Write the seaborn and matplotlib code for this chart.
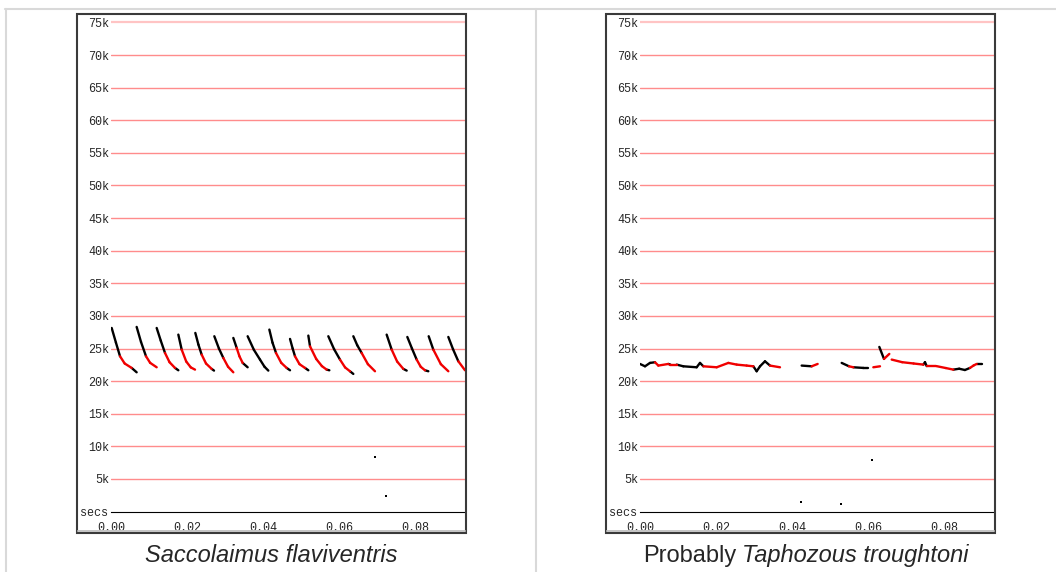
# ========== Librerias ==========
import numpy as np
import pandas as pd
import matplotlib
matplotlib.use('Agg')
import matplotlib.pyplot as plt
from matplotlib.patches import Rectangle
from matplotlib.lines import Line2D
import seaborn as sns

sns.set_style('white')
plt.rcParams['font.family'] = ['Liberation Sans', 'DejaVu Sans']

# ========== Datos ==========
# Saccolaimus flaviventris: one list per pulse (time s, freq Hz), colour per segment
left_t = [
    [0.00018, 0.00130, 0.00237, 0.00360, 0.00544, 0.00675],
    [0.00675, 0.00790, 0.00921, 0.01030, 0.01202],
    [0.01202, 0.01310, 0.01421, 0.01540, 0.01684, 0.01772],
    [0.01772, 0.01860, 0.01980, 0.02100, 0.02211],
    [0.02219, 0.02300, 0.02386, 0.02500, 0.02649, 0.02711],
    [0.02719, 0.02840, 0.02956, 0.03080, 0.03219],
    [0.03219, 0.03307, 0.03380, 0.03465, 0.03596],
    [0.03596, 0.03760, 0.03921, 0.04040, 0.04140],
    [0.04167, 0.04250, 0.04342, 0.04480, 0.04623, 0.04711],
    [0.04711, 0.04780, 0.04842, 0.04960, 0.05105, 0.05193],
    [0.05193, 0.05237, 0.05400, 0.05550, 0.05675, 0.05746],
    [0.05719, 0.05870, 0.06026, 0.06160, 0.06289, 0.06377],
    [0.06377, 0.06480, 0.06596, 0.06760, 0.06947],
    [0.07254, 0.07386, 0.07530, 0.07693, 0.07781],
    [0.07798, 0.07920, 0.08044, 0.08150, 0.08263, 0.08351],
    [0.08360, 0.08482, 0.08680, 0.08877],
    [0.08877, 0.09000, 0.09140, 0.09316],
]
left_f = [
    [28150, 25900, 23810, 22700, 22020, 21350],
    [28310, 26000, 23810, 22800, 22120],
    [28150, 26200, 24320, 22900, 22020, 21660],
    [27130, 24830, 23000, 22100, 21760],
    [27390, 25600, 24060, 22700, 21870, 21610],
    [26880, 25000, 23550, 22200, 21350],
    [26620, 25090, 23800, 22790, 22120],
    [26880, 24800, 23300, 22200, 21610],
    [27900, 25900, 24320, 22800, 22020, 21660],
    [26470, 25000, 23810, 22600, 22020, 21660],
    [26980, 25340, 23400, 22300, 21760, 21660],
    [26880, 24900, 23300, 22100, 21510, 21100],
    [26880, 25500, 24320, 22600, 21510],
    [27130, 24830, 23000, 21870, 21610],
    [26770, 25000, 23300, 22200, 21660, 21510],
    [26880, 24830, 22600, 21510],
    [26770, 24900, 23040, 21660],
]
left_c = [
    'kkrrk', 'kkrr', 'kkrrk', 'krrr', 'kkrrk', 'kkrr', 'krrk', 'kkkk', 'kkrrk',
    'kkrrk', 'krrrk', 'kkrrk', 'kkrr', 'krrk', 'kkrrk', 'krr', 'kkr',
]
left_dots_t = [0.0695, 0.0725]
left_dots_f = [8310, 2330]

# Probably Taphozous troughtoni
right_t = [
    [0.0, 0.00132, 0.00263, 0.00395, 0.00482, 0.00746, 0.00800, 0.00965,
     0.01140, 0.01491, 0.01579, 0.01667, 0.02018, 0.02325, 0.02544, 0.02807,
     0.02982, 0.03070, 0.03158, 0.03289, 0.03421, 0.03684],
    [0.04254, 0.04518, 0.04675],
    [0.05307, 0.05500, 0.05614, 0.05877, 0.06009],
    [0.06140, 0.06316],
    [0.06298, 0.06421, 0.06561],
    [0.06623, 0.06900, 0.07200, 0.07456, 0.07500, 0.07544, 0.07800, 0.08050,
     0.08246, 0.08400, 0.08550, 0.08684, 0.08780, 0.08860, 0.08991],
]
right_f = [
    [22630, 22270, 22790, 22890, 22380, 22630, 22530, 22530,
     22270, 22120, 22790, 22270, 22120, 22790, 22530, 22380,
     22270, 21510, 22270, 23040, 22380, 22120],
    [22380, 22270, 22630],
    [22790, 22270, 22120, 22020, 22020],
    [22120, 22270],
    [25240, 23400, 24170],
    [23300, 22900, 22700, 22530, 22900, 22300, 22300, 22000,
     21760, 21900, 21700, 22020, 22400, 22630, 22630],
]
right_c = [
    'kkkrrkrkkkkrrrrrkkkkr',
    'kr',
    'krkk',
    'r',
    'kr',
    'rrrkkrrrkkkrrk',
]
right_dots_t = [0.0423, 0.0528, 0.0610]
right_dots_f = [1470, 1170, 7960]

y_ticks = list(range(5000, 80000, 5000))
y_labels = [f'{v // 1000}k' for v in y_ticks]
x_ticks = [0.0, 0.02, 0.04, 0.06, 0.08]
x_labels = ['0.00', '0.02', '0.04', '0.06', '0.08']
x_minor = [0.01, 0.03, 0.05, 0.07, 0.09]

captions = [('', 'Saccolaimus flaviventris'), ('Probably ', 'Taphozous troughtoni')]


def segments(ts, fs, cols):
    rows = []
    for i, (t, f, c) in enumerate(zip(ts, fs, cols)):
        for j in range(len(c)):
            seg = f'{i}-{j}'
            rows.append((t[j], f[j], c[j], seg))
            rows.append((t[j + 1], f[j + 1], c[j], seg))
    return pd.DataFrame(rows, columns=['t', 'f', 'col', 'seg'])


# ========== Figura ==========
W, H = 1056, 572
fig = plt.figure(figsize=(W / 100, H / 100), dpi=100)
mono = 'Liberation Mono'

panels = [
    (0, left_t, left_f, left_c, left_dots_t, left_dots_f),
    (529, right_t, right_f, right_c, right_dots_t, right_dots_f),
]

for k, (dx, ts, fs, cs, dt, df_) in enumerate(panels):
    left, right, top, bottom = 111 + dx, 465 + dx, 14.7, 511.5
    ax = fig.add_axes([left / W, 1 - bottom / H, (right - left) / W, (bottom - top) / H])
    ax.set_xlim(0, (right - left) / 3800)
    ax.set_ylim(0, (bottom - top) / 32.6 * 5000)

    df = segments(ts, fs, cs)
    sns.lineplot(data=df, x='t', y='f', hue='col', units='seg', estimator=None,
                 sort=False, palette={'k': 'black', 'r': '#f00000'}, lw=1.7,
                 legend=False, ax=ax)
    sns.scatterplot(x=dt, y=df_, marker='s', s=4, color='black', linewidth=0, ax=ax)

    ax.set_yticks(y_ticks)
    ax.set_yticklabels(y_labels, family=mono, fontsize=8.5)
    ax.set_xticks(x_ticks)
    ax.set_xticklabels(x_labels, family=mono, fontsize=8.5)
    ax.set_xticks(x_minor, minor=True)
    ax.tick_params(axis='y', length=0, pad=1.5)
    ax.tick_params(axis='x', which='major', direction='out', length=4.3, width=0.8, pad=3)
    ax.tick_params(axis='x', which='minor', direction='out', length=2, width=0.8)
    ax.set_xlabel('')
    ax.set_ylabel('')
    ax.grid(axis='y', color='#ff8c8c', lw=1)
    ax.yaxis.get_gridlines()[-1].set_color('#ffc4c4')
    ax.yaxis.get_gridlines()[-1].set_linewidth(1.6)
    ax.set_axisbelow(True)
    for s in ['top', 'left', 'right']:
        ax.spines[s].set_visible(False)
    ax.spines['bottom'].set_color('black')
    ax.spines['bottom'].set_linewidth(0.8)

    fig.text((80 + dx) / W, 1 - 513 / H, 'secs', family=mono, fontsize=8.5,
             va='center', ha='left')

    # marco de la imagen
    fig.add_artist(Rectangle(((77 + dx) / W, 1 - 533.3 / H), 389 / W, 519.6 / H,
                             transform=fig.transFigure, fill=False,
                             ec='#3a3a3a', lw=1.5))
    fig.add_artist(Line2D([(78 + dx) / W, (465 + dx) / W], [1 - 531 / H] * 2,
                          color='#c4c4c4', lw=1.4))

    # pie de figura
    plain, ital = captions[k]
    if plain:
        split = 736 / W
        fig.text(split, 1 - 562 / H, plain.strip(), fontsize=17, ha='right',
                 va='baseline')
        fig.text(split + 6 / W, 1 - 562 / H, ital, fontsize=17, style='italic',
                 ha='left', va='baseline')
    else:
        fig.text((271.5 + dx) / W, 1 - 562 / H, ital, fontsize=17,
                 style='italic', ha='center', va='baseline')

# bordes de la tabla
grey = '#d9d9d9'
fig.add_artist(Line2D([5 / W, 1], [1 - 9 / H] * 2, color=grey, lw=1.5))
fig.add_artist(Line2D([6 / W] * 2, [0, 1 - 9 / H], color=grey, lw=1.5))
fig.add_artist(Line2D([536 / W] * 2, [0, 1 - 9 / H], color=grey, lw=1.5))

fig.savefig('out.png', dpi=100)
